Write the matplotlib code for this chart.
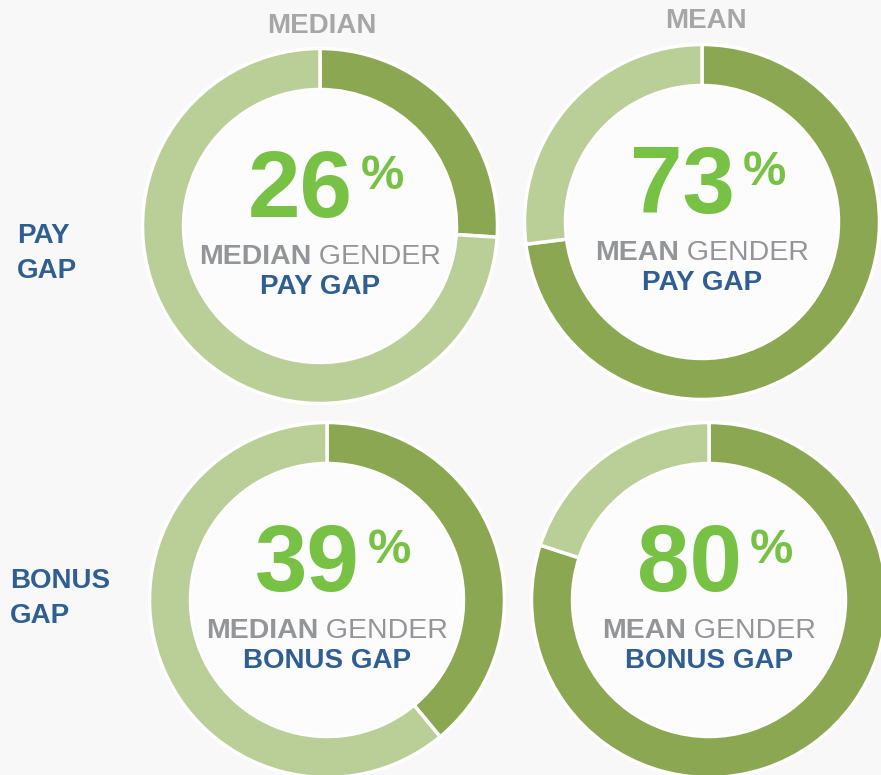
import matplotlib.pyplot as plt
from matplotlib.patches import Circle
from matplotlib.offsetbox import TextArea, HPacker, AnnotationBbox

# data
col_titles = ["MEDIAN", "MEAN"]
row_labels = [["PAY", "GAP"], ["BONUS", "GAP"]]
gap_values = [26, 73, 39, 80]
gap_kinds = ["MEDIAN", "MEAN", "MEDIAN", "MEAN"]
gap_types = ["PAY GAP", "PAY GAP", "BONUS GAP", "BONUS GAP"]

dark = "#8ba751"
light = "#bacf98"
num_green = "#77c144"
grey = "#939598"
title_grey = "#a6a6a6"
blue = "#2f5e93"
bg = "#f8f8f8"

W, H = 881, 775
fig = plt.figure(figsize=(W / 100, H / 100), dpi=100)
fig.patch.set_facecolor(bg)
ax = fig.add_axes([0, 0, 1, 1])
ax.set_facecolor(bg)

# donut centres in pixel coords (from top-left)
centres = [(320, 226), (702, 222), (327, 600), (709, 600)]
R = 177.5

for (cx, cy), v, kind, gtype in zip(centres, gap_values, gap_kinds, gap_types):
    y = H - cy
    ax.pie([v, 100 - v], colors=[dark, light], startangle=90, counterclock=False,
           center=(cx, y), radius=R,
           wedgeprops=dict(width=41, edgecolor="white", linewidth=2.5))
    ax.add_patch(Circle((cx, y), R - 42, facecolor="#fcfcfc", edgecolor="none", zorder=3))

    ax.text(cx + 33, y + 9, str(v), ha="right", va="baseline", color=num_green,
            fontsize=68, fontweight="bold", family="Liberation Sans", zorder=5)
    ax.text(cx + 41, y + 37, "%", ha="left", va="baseline", color=num_green,
            fontsize=35, fontweight="bold", family="Liberation Sans", zorder=5)

    line1 = HPacker(children=[
        TextArea(kind, textprops=dict(color=grey, fontsize=20.5, fontweight="bold",
                                      family="Liberation Sans")),
        TextArea(" GENDER", textprops=dict(color=grey, fontsize=20.5,
                                           family="Liberation Sans")),
    ], sep=0, pad=0, align="baseline")
    ab = AnnotationBbox(line1, (cx, y - 39), box_alignment=(0.5, 0.2), frameon=False,
                        xycoords="data", zorder=6)
    ax.add_artist(ab)
    ax.text(cx, y - 68, gtype, ha="center", va="baseline", color=blue,
            fontsize=20, fontweight="bold", family="Liberation Sans", zorder=5)

# column titles
ax.text(322, H - 33, col_titles[0], ha="center", va="baseline", color=title_grey,
        fontsize=20, fontweight="bold", family="Liberation Sans")
ax.text(706, H - 28, col_titles[1], ha="center", va="baseline", color=title_grey,
        fontsize=20, fontweight="bold", family="Liberation Sans")

# row labels
for (x0, base), words in zip([(17, 243), (10, 588)], row_labels):
    for i, w in enumerate(words):
        ax.text(x0, H - (base + 35 * i), w, ha="left", va="baseline", color=blue,
                fontsize=20, fontweight="bold", family="Liberation Sans")

ax.set_xlim(0, W)
ax.set_ylim(0, H)
ax.set_aspect("equal")
ax.axis("off")

fig.savefig("out.png", dpi=100, facecolor=bg)
